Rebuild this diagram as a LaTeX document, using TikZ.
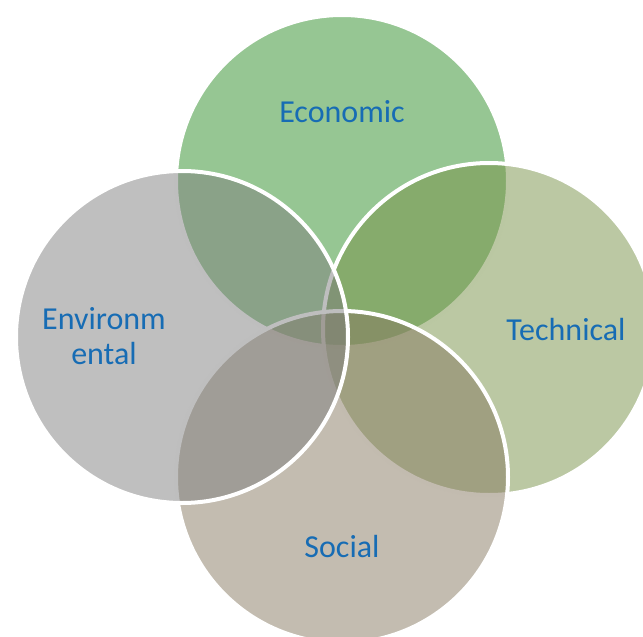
\documentclass[tikz,border=0pt]{standalone}
\usepackage{fontspec}
\setmainfont{Carlito}
\definecolor{econ}{RGB}{45,141,39}
\definecolor{tech}{RGB}{119,145,71}
\definecolor{soc}{RGB}{135,121,97}
\definecolor{env}{RGB}{127,127,127}
\definecolor{labelblue}{RGB}{23,108,180}
\tikzset{
  area/.style={circle, inner sep=0pt, minimum size=332pt, draw=white,
    line width=4pt, fill opacity=0.5, draw opacity=1},
  tag/.style={text=labelblue, font=\fontsize{32}{35}\selectfont, align=center,
    inner sep=0pt}
}
\begin{document}
\begin{tikzpicture}[x=1pt,y=-1pt]
  \useasboundingbox (0,0) rectangle (643,637);
  \clip (0,0) rectangle (643,637);
  % four overlapping translucent areas, drawn in stacking order
  \node[area, fill=econ] (economic) at (342,181) {};
  \node[area, fill=tech] (technical) at (489,329) {};
  \node[area, fill=soc] (social) at (342,477) {};
  \node[area, fill=env] (environmental) at (182,337) {};
  % labels
  \node[tag] (econlabel) at (342,112) {Economic};
  \node[tag] (techlabel) at (566,330) {Technical};
  \node[tag] (soclabel) at (342,547) {Social};
  \node[tag] (envlabel) at (104,336) {Environm\\ental};
\end{tikzpicture}
\end{document}
